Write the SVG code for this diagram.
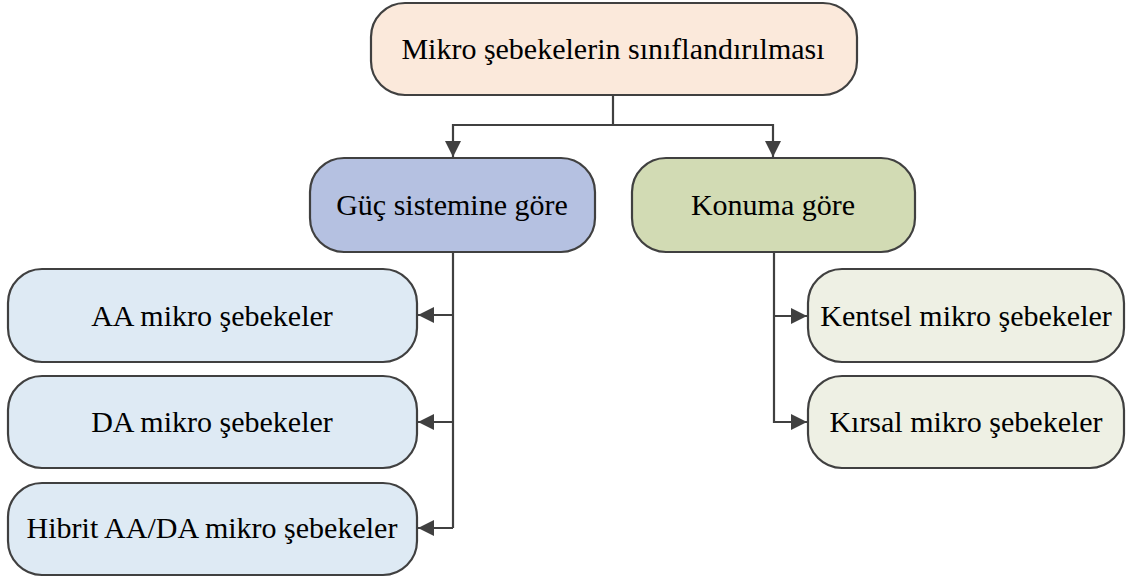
<svg xmlns="http://www.w3.org/2000/svg" width="1126" height="577" viewBox="0 0 1126 577">
  <style>
    .box { stroke: #404040; stroke-width: 2.2; }
    .lbl { font-family: "Liberation Serif", "Times New Roman", serif; font-size: 30px; fill: #000; text-anchor: middle; dominant-baseline: central; }
    .wire { fill: none; stroke: #404040; stroke-width: 2.2; }
  </style>
  <defs>
    <marker id="arrow" viewBox="0 0 16 16" refX="16" refY="8" markerWidth="16" markerHeight="16" markerUnits="userSpaceOnUse" orient="auto">
      <path d="M0,0 L16,8 L0,16 Z" fill="#404040"/>
    </marker>
  </defs>

  <g id="connectors">
    <path class="wire" d="M613,95 V125 H453 V157" marker-end="url(#arrow)"/>
    <path class="wire" d="M613,125 H773 V157" marker-end="url(#arrow)"/>
    <path class="wire" d="M453,252 V528"/>
    <path class="wire" d="M453,315 H418" marker-end="url(#arrow)"/>
    <path class="wire" d="M453,422 H418" marker-end="url(#arrow)"/>
    <path class="wire" d="M453,528 H418" marker-end="url(#arrow)"/>
    <path class="wire" d="M774,252 V422 H807" marker-end="url(#arrow)"/>
    <path class="wire" d="M774,316 H807" marker-end="url(#arrow)"/>
  </g>

  <g id="root">
    <rect class="box" x="371" y="3" width="486" height="92" rx="34" fill="#fbe9db"/>
    <text class="lbl" x="613" y="48">Mikro şebekelerin sınıflandırılması</text>
  </g>

  <g id="power">
    <rect class="box" x="310" y="158" width="285" height="94" rx="34" fill="#b5c1e1"/>
    <text class="lbl" x="452" y="204">Güç sistemine göre</text>
  </g>

  <g id="location">
    <rect class="box" x="632" y="158" width="283" height="94" rx="34" fill="#d2dbb4"/>
    <text class="lbl" x="773" y="204">Konuma göre</text>
  </g>

  <g id="ac">
    <rect class="box" x="8" y="269" width="409" height="93" rx="34" fill="#deeaf4"/>
    <text class="lbl" x="212" y="315">AA mikro şebekeler</text>
  </g>

  <g id="dc">
    <rect class="box" x="8" y="376" width="409" height="92" rx="34" fill="#deeaf4"/>
    <text class="lbl" x="212" y="421">DA mikro şebekeler</text>
  </g>

  <g id="hybrid">
    <rect class="box" x="8" y="483" width="409" height="92" rx="34" fill="#deeaf4"/>
    <text class="lbl" x="212" y="527">Hibrit AA/DA mikro şebekeler</text>
  </g>

  <g id="urban">
    <rect class="box" x="808" y="269" width="316" height="93" rx="34" fill="#eef0e4"/>
    <text class="lbl" x="966" y="315">Kentsel mikro şebekeler</text>
  </g>

  <g id="rural">
    <rect class="box" x="808" y="376" width="316" height="92" rx="34" fill="#eef0e4"/>
    <text class="lbl" x="966" y="421">Kırsal mikro şebekeler</text>
  </g>
</svg>
